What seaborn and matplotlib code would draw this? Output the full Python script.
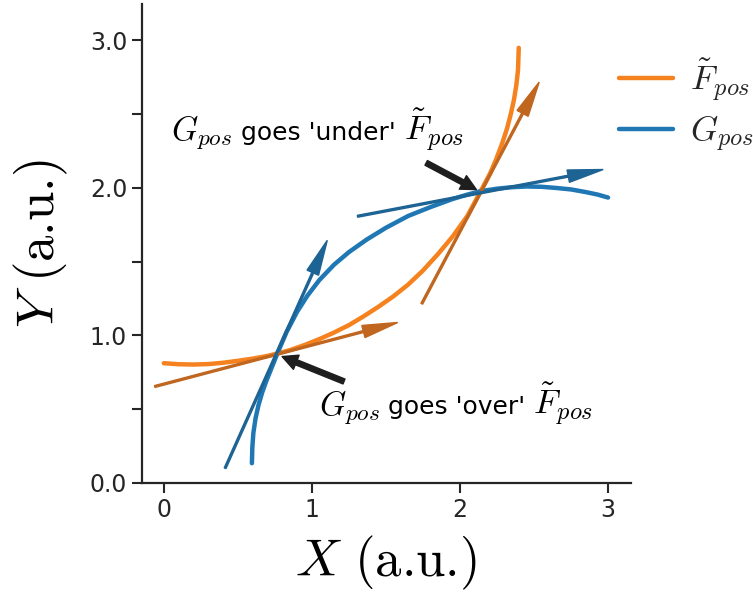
import numpy as np
import pandas as pd
import matplotlib
matplotlib.use("Agg")
import matplotlib.pyplot as plt
from matplotlib.offsetbox import TextArea, HPacker, AnnotationBbox
import seaborn as sns

# curve: F~_pos (orange)
f_x = [0.0, 0.1, 0.2, 0.3, 0.4, 0.5, 0.6, 0.7, 0.767, 0.85, 0.95, 1.05, 1.15,
       1.25, 1.35, 1.45, 1.55, 1.65, 1.75, 1.85, 1.95, 2.05, 2.14, 2.204, 2.244,
       2.284, 2.317, 2.343, 2.365, 2.381, 2.392, 2.397]
f_y = [0.812, 0.805, 0.803, 0.806, 0.815, 0.828, 0.843, 0.861, 0.878, 0.90,
       0.935, 0.975, 1.02, 1.07, 1.13, 1.195, 1.265, 1.345, 1.44, 1.55, 1.67,
       1.81, 1.978, 2.10, 2.193, 2.30, 2.40, 2.50, 2.60, 2.70, 2.80, 2.95]

# G_pos (blue)
g_x = [0.595, 0.598, 0.605, 0.62, 0.64, 0.665, 0.69, 0.72, 0.767, 0.83, 0.90,
       0.97, 1.05, 1.15, 1.25, 1.37, 1.50, 1.65, 1.80, 1.95, 2.05, 2.14, 2.25,
       2.35, 2.45, 2.55, 2.65, 2.75, 2.85, 2.93, 3.0]
g_y = [0.134, 0.24, 0.34, 0.44, 0.53, 0.615, 0.685, 0.76, 0.878, 1.025, 1.16,
       1.27, 1.375, 1.48, 1.565, 1.65, 1.73, 1.81, 1.87, 1.925, 1.955, 1.978,
       1.995, 2.005, 2.01, 2.008, 2.0, 1.99, 1.972, 1.955, 1.935]

# tangent arrows (start x, start y, end x, end y)
f_tangents = [(-0.061, 0.654, 1.58, 1.088), (1.742, 1.215, 2.535, 2.718)]
g_tangents = [(0.414, 0.10, 1.104, 1.645), (1.308, 1.808, 2.967, 2.125)]

# annotations: words, box lower-left, arrow tail, arrow tip
notes = [
    ("goes 'under'", (0.05, 2.24), (1.772, 2.17), (2.111, 1.989)),
    ("goes 'over'", (1.045, 0.38), (1.217, 0.688), (0.799, 0.857)),
]
g_label = r"$G_{pos}$"
f_label = r"$\tilde{F}_{pos}$"

x_ticks = [0, 1, 2, 3]
y_ticks = [0.0, 1.0, 2.0, 3.0]
y_minor = [0.5, 1.5, 2.5]

sns.set_theme(style="ticks")
plt.rcParams["mathtext.fontset"] = "cm"

fig = plt.figure(figsize=(7.53, 5.94), dpi=100)
ax = fig.add_axes([0.1882, 0.1869, 0.6494, 0.8056])

df_f = pd.DataFrame({"x": f_x, "y": f_y})
df_g = pd.DataFrame({"x": g_x, "y": g_y})
sns.lineplot(data=df_f, x="x", y="y", color="#f5821f", lw=3.2, sort=False,
             estimator=None, label=f_label, ax=ax)
sns.lineplot(data=df_g, x="x", y="y", color="#1f77b4", lw=3.2, sort=False,
             estimator=None, label=g_label, ax=ax)

for (x0, y0, x1, y1) in f_tangents:
    ax.arrow(x0, y0, x1 - x0, y1 - y0, width=0.013, head_width=0.085,
             head_length=0.24, length_includes_head=True,
             color="#c0661f", zorder=3)
for (x0, y0, x1, y1) in g_tangents:
    ax.arrow(x0, y0, x1 - x0, y1 - y0, width=0.013, head_width=0.085,
             head_length=0.24, length_includes_head=True,
             color="#1d6394", zorder=3)

for words, bpos, tail, tip in notes:
    # math bits are bigger than the plain words in the reference
    parts = [TextArea(g_label, textprops=dict(fontsize=24, color="black")),
             TextArea(words, textprops=dict(fontsize=18, color="black")),
             TextArea(f_label, textprops=dict(fontsize=25, color="black"))]
    box = HPacker(children=parts, align="baseline", pad=0, sep=6)
    ab = AnnotationBbox(box, bpos, xycoords="data", box_alignment=(0, 0),
                        frameon=False, pad=0)
    ax.add_artist(ab)
    ax.annotate("", xy=tip, xytext=tail,
                arrowprops=dict(facecolor="#1e1e1e", edgecolor="#1e1e1e",
                                width=3.8, headwidth=11, headlength=11,
                                shrink=0))

ax.set_xlim(-0.149, 3.153)
ax.set_ylim(0, 3.244)
ax.set_xticks(x_ticks)
ax.set_xticklabels([str(t) for t in x_ticks])
ax.set_yticks(y_ticks)
ax.set_yticklabels(["%.1f" % t for t in y_ticks])
ax.set_yticks(y_minor, minor=True)
ax.tick_params(axis="both", which="both", labelsize=17, length=7, width=1.5,
               colors="#262626")
for s in ["left", "bottom"]:
    ax.spines[s].set_linewidth(1.6)
    ax.spines[s].set_color("#262626")
sns.despine(ax=ax)

ax.set_xlabel(r"$X\ $(a.u.)", fontsize=38, family="cmr10", color="black",
              labelpad=9)
ax.set_ylabel(r"$Y\ $(a.u.)", fontsize=38, family="cmr10", color="black",
              labelpad=14)

ax.legend(loc="upper left", bbox_to_anchor=(0.913, 0.955), frameon=False,
          fontsize=25, handlelength=1.55, handletextpad=0.49, labelspacing=0.3)

fig.savefig("out.png", dpi=100)
